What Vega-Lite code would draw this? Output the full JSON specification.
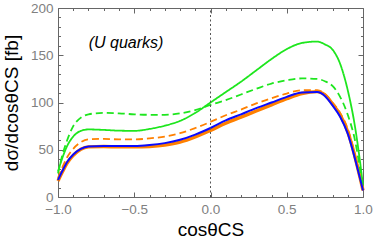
{
  "$schema": "https://vega.github.io/schema/vega-lite/v6.json",
  "width": 305,
  "height": 189,
  "autosize": {"type": "none"},
  "padding": {"left": 58, "top": 8, "right": 11, "bottom": 50},
  "config": {
    "view": {"stroke": "#666666", "strokeWidth": 1},
    "font": "Liberation Sans",
    "axis": {"grid": false, "domain": false, "labelFlush": false, "labelOverlap": false, "tickColor": "#666666", "labelFont": "Liberation Sans", "titleFont": "Liberation Sans", "titleFontWeight": "normal", "titleColor": "#000000", "labelColor": "#808080", "labelFontSize": 13.5, "titleFontSize": 19}
  },
  "data": {
    "values": [
      {"x": -1.0, "gs": 27, "gd": 25, "od": 20, "b": 18, "os": 17},
      {"x": -0.97, "gs": 42, "gd": 45, "od": 32, "b": 28, "os": 27},
      {"x": -0.94, "gs": 54, "gd": 60, "od": 42, "b": 37, "os": 36},
      {"x": -0.9, "gs": 64, "gd": 75, "od": 51, "b": 45, "os": 44},
      {"x": -0.85, "gs": 70, "gd": 84, "od": 58, "b": 51, "os": 50.5},
      {"x": -0.8, "gs": 71.5, "gd": 87.5, "od": 61, "b": 53.5, "os": 53},
      {"x": -0.7, "gs": 71, "gd": 89, "od": 61.5, "b": 54, "os": 53.5},
      {"x": -0.6, "gs": 70.2, "gd": 88.5, "od": 61, "b": 54, "os": 53},
      {"x": -0.5, "gs": 70, "gd": 87.5, "od": 61, "b": 54, "os": 53},
      {"x": -0.4, "gs": 72, "gd": 87, "od": 62, "b": 55, "os": 53.5},
      {"x": -0.3, "gs": 75.5, "gd": 87, "od": 64, "b": 57, "os": 55},
      {"x": -0.2, "gs": 80.5, "gd": 88.5, "od": 67.5, "b": 60.5, "os": 58},
      {"x": -0.1, "gs": 89, "gd": 92, "od": 73, "b": 66, "os": 63.5},
      {"x": 0.0, "gs": 100, "gd": 97.5, "od": 79.5, "b": 73, "os": 70.5},
      {"x": 0.1, "gs": 111, "gd": 102.5, "od": 86.5, "b": 81, "os": 78},
      {"x": 0.2, "gs": 122, "gd": 108.5, "od": 92.5, "b": 87.5, "os": 84.5},
      {"x": 0.3, "gs": 134, "gd": 114.5, "od": 99, "b": 94, "os": 91},
      {"x": 0.4, "gs": 146, "gd": 120, "od": 104.5, "b": 100, "os": 97.5},
      {"x": 0.5, "gs": 156.5, "gd": 123.5, "od": 109.5, "b": 106, "os": 104},
      {"x": 0.6, "gs": 163, "gd": 125.5, "od": 113, "b": 110.5, "os": 109.5},
      {"x": 0.7, "gs": 164.5, "gd": 125, "od": 113, "b": 111, "os": 111.5},
      {"x": 0.75, "gs": 161.5, "gd": 122.5, "od": 109, "b": 107, "os": 108},
      {"x": 0.8, "gs": 156, "gd": 117.5, "od": 100, "b": 97, "os": 98.5},
      {"x": 0.85, "gs": 141, "gd": 106, "od": 89, "b": 85, "os": 87},
      {"x": 0.9, "gs": 113, "gd": 87, "od": 72, "b": 67, "os": 69},
      {"x": 0.95, "gs": 72, "gd": 58, "od": 43, "b": 39, "os": 41},
      {"x": 0.98, "gs": 38, "gd": 30, "od": 22, "b": 20, "os": 21},
      {"x": 1.0, "gs": 12, "gd": 9, "od": 7, "b": 7, "os": 7}
    ]
  },
  "transform": [{"fold": ["gs", "gd", "od", "b", "os"], "as": ["c", "y"]}],
  "resolve": {"axis": {"x": "independent", "y": "independent"}},
  "layer": [
    {
      "transform": [{"filter": "datum.c == 'os'"}],
      "mark": {"type": "line", "interpolate": "monotone", "strokeWidth": 3.4, "color": "#ff8000"},
      "encoding": {
        "x": {"field": "x", "type": "quantitative", "scale": {"domain": [-1, 1], "nice": false, "zero": false},
          "axis": {"orient": "bottom", "values": [-1, -0.5, 0, 0.5, 1], "format": ".1f", "tickSize": -5, "labelPadding": 10, "title": "cosθCS", "titlePadding": 5}},
        "y": {"field": "y", "type": "quantitative", "scale": {"domain": [0, 200], "nice": false},
          "axis": {"orient": "left", "values": [0, 50, 100, 150, 200], "tickSize": -5, "labelPadding": 10, "title": "dσ/dcosθCS [fb]", "titlePadding": 9}}
      }
    },
    {
      "transform": [{"filter": "datum.c == 'gs' || datum.c == 'gd' || datum.c == 'od'"}],
      "mark": {"type": "line", "interpolate": "monotone", "strokeWidth": 1.8},
      "encoding": {
        "x": {"field": "x", "type": "quantitative",
          "axis": {"orient": "bottom", "values": [-0.9, -0.8, -0.7, -0.6, -0.4, -0.3, -0.2, -0.1, 0.1, 0.2, 0.3, 0.4, 0.6, 0.7, 0.8, 0.9], "tickSize": -2.5, "labels": false, "title": null}},
        "y": {"field": "y", "type": "quantitative",
          "axis": {"orient": "left", "values": [10, 20, 30, 40, 60, 70, 80, 90, 110, 120, 130, 140, 160, 170, 180, 190], "tickSize": -2.5, "labels": false, "title": null}},
        "color": {"field": "c", "type": "nominal", "scale": {"domain": ["gs", "gd", "od"], "range": ["#1ee61e", "#1ee61e", "#ff8000"]}, "legend": null},
        "strokeDash": {"field": "c", "type": "nominal", "scale": {"domain": ["gs", "gd", "od"], "range": [[1, 0], [7, 4], [7, 4]]}, "legend": null}
      }
    },
    {
      "transform": [{"filter": "datum.c == 'b'"}],
      "mark": {"type": "line", "interpolate": "monotone", "strokeWidth": 2, "color": "#0a0aff"},
      "encoding": {
        "x": {"field": "x", "type": "quantitative",
          "axis": {"orient": "top", "values": [-1, -0.5, 0, 0.5, 1], "tickSize": -5, "labels": false, "title": null}},
        "y": {"field": "y", "type": "quantitative",
          "axis": {"orient": "right", "values": [0, 50, 100, 150, 200], "tickSize": -5, "labels": false, "title": null}}
      }
    },
    {
      "data": {"values": [{"x": 0, "y": 0}, {"x": 0, "y": 200}]},
      "transform": [],
      "mark": {"type": "line", "color": "#555555", "strokeWidth": 1, "strokeDash": [2, 2.5]},
      "encoding": {
        "x": {"field": "x", "type": "quantitative",
          "axis": {"orient": "top", "values": [-0.9, -0.8, -0.7, -0.6, -0.4, -0.3, -0.2, -0.1, 0.1, 0.2, 0.3, 0.4, 0.6, 0.7, 0.8, 0.9], "tickSize": -2.5, "labels": false, "title": null}},
        "y": {"field": "y", "type": "quantitative",
          "axis": {"orient": "right", "values": [10, 20, 30, 40, 60, 70, 80, 90, 110, 120, 130, 140, 160, 170, 180, 190], "tickSize": -2.5, "labels": false, "title": null}}
      }
    },
    {
      "data": {"values": [{"x": -0.554, "y": 163, "t": "(U quarks)"}]},
      "transform": [],
      "mark": {"type": "text", "fontSize": 16, "fontStyle": "italic", "font": "Liberation Sans", "align": "center", "baseline": "middle", "color": "#000000"},
      "encoding": {
        "x": {"field": "x", "type": "quantitative", "axis": null},
        "y": {"field": "y", "type": "quantitative", "axis": null},
        "text": {"field": "t"}
      }
    }
  ]
}
